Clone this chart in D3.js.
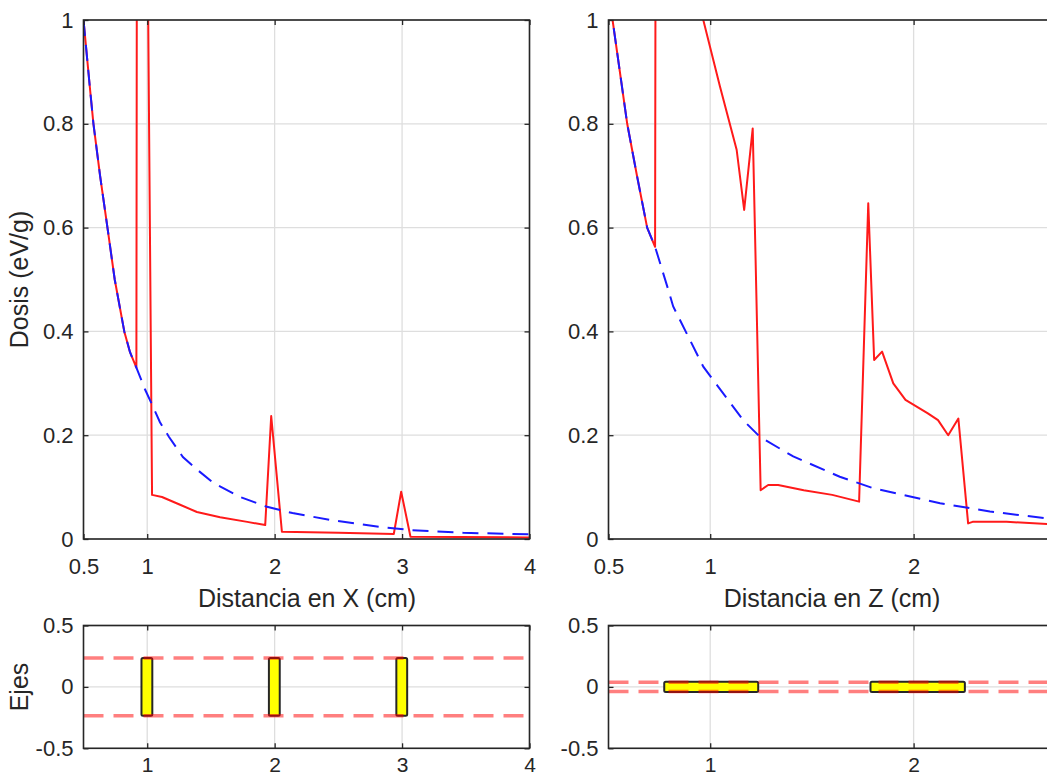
<!DOCTYPE html>
<html>
<head>
<meta charset="utf-8">
<script src="https://cdn.jsdelivr.net/npm/d3@7"></script>
<style>
  body { margin: 0; background: #fff; }
  svg { display: block; }
  text { font-family: "Liberation Sans", Arial, sans-serif; }
</style>
</head>
<body>
<svg id="chart" width="1047" height="778"></svg>
<script>
// --- dose along X (top left) ---
const xDoseDist = [0.5, 0.55, 0.578, 0.63, 0.688, 0.745, 0.82, 0.865, 0.915, 0.925, 0.975, 1.038, 1.116, 1.258, 1.39, 1.572, 1.785, 1.926, 1.973, 2.057, 2.5, 2.935, 2.993, 3.066, 4.0];
const xDose     = [1.0, 0.87, 0.8, 0.7, 0.6, 0.5, 0.4, 0.36, 0.33, 2.5, 2.0, 0.085, 0.081, 0.066, 0.052, 0.042, 0.033, 0.027, 0.237, 0.014, 0.012, 0.0096, 0.091, 0.0044, 0.003];
const xRefDist  = [0.5, 0.55, 0.578, 0.63, 0.688, 0.745, 0.82, 0.865, 0.915, 0.985, 1.04, 1.1, 1.17, 1.28, 1.39, 1.52, 1.73, 1.94, 2.14, 2.43, 2.83, 3.08, 3.48, 4.0];
const xRef      = [1.0, 0.87, 0.8, 0.7, 0.6, 0.5, 0.4, 0.36, 0.33, 0.287, 0.258, 0.225, 0.197, 0.158, 0.134, 0.108, 0.081, 0.062, 0.05, 0.037, 0.023, 0.017, 0.012, 0.009];

// --- dose along Z (top right) ---
const zDoseDist = [0.5, 0.52, 0.592, 0.64, 0.69, 0.729, 0.733, 0.94, 0.966, 1.048, 1.13, 1.167, 1.209, 1.248, 1.285, 1.334, 1.46, 1.6, 1.732, 1.777, 1.806, 1.845, 1.9, 1.96, 2.07, 2.12, 2.17, 2.22, 2.268, 2.29, 2.457, 2.7];
const zDose     = [1.08, 1.0, 0.8, 0.7, 0.6, 0.563, 1.6, 1.04, 1.0, 0.872, 0.75, 0.634, 0.791, 0.094, 0.104, 0.104, 0.094, 0.085, 0.072, 0.647, 0.345, 0.361, 0.3, 0.268, 0.242, 0.229, 0.2, 0.232, 0.03, 0.033, 0.033, 0.028];
const zRefDist  = [0.5, 0.52, 0.592, 0.64, 0.69, 0.729, 0.794, 0.818, 0.966, 1.162, 1.244, 1.408, 1.637, 1.8, 2.13, 2.375, 2.65, 2.7];
const zRef      = [1.08, 1.0, 0.8, 0.7, 0.6, 0.563, 0.48, 0.448, 0.332, 0.229, 0.197, 0.159, 0.12, 0.098, 0.069, 0.053, 0.04, 0.038];

// --- geometry (bottom panels) ---
const xSlabs = [[0.955, 1.04], [1.955, 2.04], [2.955, 3.04]];
const xSlabY = [-0.235, 0.235];
const xEdges = [0.235, -0.235];
const zSlabs = [[0.774, 1.236], [1.788, 2.252]];
const zSlabY = [-0.042, 0.042];
const zEdges = [0.037, -0.037];

// --- ticks ---
const doseTicks = [0, 0.2, 0.4, 0.6, 0.8, 1];
const xTopTicks = [0.5, 1, 2, 3, 4];
const zTopTicks = [0.5, 1, 2];
const ejesTicks = [-0.5, 0, 0.5];
const xBotTicks = [1, 2, 3, 4];
const zBotTicks = [1, 2];

const svg = d3.select('#chart');
const ink = '#262626';

function makePanel(id, box, xDomain, yDomain, xTicks, yTicks) {
  const x = d3.scaleLinear().domain(xDomain).range([box.left, box.right]);
  const y = d3.scaleLinear().domain(yDomain).range([box.bottom, box.top]);
  const g = svg.append('g').attr('id', id);

  g.append('clipPath').attr('id', id + '-clip')
    .append('rect')
    .attr('x', box.left).attr('y', box.top)
    .attr('width', box.right - box.left).attr('height', box.bottom - box.top);

  // grid
  g.append('g').selectAll('line').data(xTicks).join('line')
    .attr('x1', d => x(d)).attr('x2', d => x(d))
    .attr('y1', box.top).attr('y2', box.bottom)
    .attr('stroke', '#dedede').attr('stroke-width', 1.3);
  g.append('g').selectAll('line').data(yTicks).join('line')
    .attr('y1', d => y(d)).attr('y2', d => y(d))
    .attr('x1', box.left).attr('x2', box.right)
    .attr('stroke', '#dedede').attr('stroke-width', 1.3);

  const plot = g.append('g').attr('clip-path', `url(#${id}-clip)`);
  return { x, y, g, plot, box, xTicks, yTicks };
}

function finishPanel(p, xPad, yPad, xFont) {
  const { x, y, g, box, xTicks, yTicks } = p;
  const fmt = d => String(d);

  const styleAxis = size => sel => {
    sel.attr('color', ink).attr('font-family', null).attr('font-size', null);
    sel.select('.domain').remove();
    sel.selectAll('line').attr('stroke-width', 1.3);
    sel.selectAll('text').style('font-size', size + 'px').attr('fill', ink);
  };

  g.append('g').attr('transform', `translate(0,${box.bottom})`)
    .call(d3.axisBottom(x).tickValues(xTicks).tickFormat(fmt).tickSizeInner(-5).tickSizeOuter(0).tickPadding(xPad))
    .call(styleAxis(xFont));
  g.append('g').attr('transform', `translate(0,${box.top})`)
    .call(d3.axisTop(x).tickValues(xTicks).tickFormat('').tickSizeInner(-5).tickSizeOuter(0))
    .call(styleAxis(22));
  g.append('g').attr('transform', `translate(${box.left},0)`)
    .call(d3.axisLeft(y).tickValues(yTicks).tickFormat(fmt).tickSizeInner(-5).tickSizeOuter(0).tickPadding(yPad))
    .call(styleAxis(22));
  g.append('g').attr('transform', `translate(${box.right},0)`)
    .call(d3.axisRight(y).tickValues(yTicks).tickFormat('').tickSizeInner(-5).tickSizeOuter(0))
    .call(styleAxis(22));

  g.append('rect')
    .attr('x', box.left).attr('y', box.top)
    .attr('width', box.right - box.left).attr('height', box.bottom - box.top)
    .attr('fill', 'none').attr('stroke', ink).attr('stroke-width', 1.6);
}

function drawDose(p, dist, dose, refDist, ref) {
  const line = d3.line().x(d => p.x(d[0])).y(d => p.y(d[1]));
  p.plot.append('path')
    .datum(d3.zip(dist, dose))
    .attr('d', line)
    .attr('fill', 'none').attr('stroke', '#ff1a1a').attr('stroke-width', 2)
    .attr('stroke-linejoin', 'round');
  p.plot.append('path')
    .datum(d3.zip(refDist, ref))
    .attr('d', line)
    .attr('fill', 'none').attr('stroke', '#1a1aff').attr('stroke-width', 2)
    .attr('stroke-dasharray', '16,9');
}

function drawSlabs(p, slabs, slabY, edges) {
  p.plot.selectAll('rect.slab').data(slabs).join('rect')
    .attr('class', 'slab')
    .attr('x', d => p.x(d[0]))
    .attr('width', d => p.x(d[1]) - p.x(d[0]))
    .attr('y', p.y(slabY[1]))
    .attr('height', p.y(slabY[0]) - p.y(slabY[1]))
    .attr('rx', 1.5)
    .attr('fill', '#ffff00').attr('stroke', ink).attr('stroke-width', 2);
  p.plot.selectAll('line.edge').data(edges).join('line')
    .attr('class', 'edge')
    .attr('x1', p.box.left).attr('x2', p.box.right)
    .attr('y1', d => p.y(d)).attr('y2', d => p.y(d))
    .attr('stroke', 'rgba(255,0,0,0.5)').attr('stroke-width', 3.5)
    .attr('stroke-dasharray', '20,10');
}

// top left
const pXt = makePanel('dose-x', { left: 83.5, right: 529.5, top: 20, bottom: 539 }, [0.5, 4], [0, 1], xTopTicks, doseTicks);
drawDose(pXt, xDoseDist, xDose, xRefDist, xRef);
finishPanel(pXt, 19, 10, 22);

// top right
const pZt = makePanel('dose-z', { left: 608.5, right: 1056, top: 20, bottom: 539 }, [0.5, 2.7], [0, 1], zTopTicks, doseTicks);
drawDose(pZt, zDoseDist, zDose, zRefDist, zRef);
finishPanel(pZt, 19, 10, 22);

// bottom left
const pXb = makePanel('ejes-x', { left: 83.5, right: 529.5, top: 625.5, bottom: 748.3 }, [0.5, 4], [-0.5, 0.5], xBotTicks, ejesTicks);
drawSlabs(pXb, xSlabs, xSlabY, xEdges);
finishPanel(pXb, 9, 10, 21);

// bottom right
const pZb = makePanel('ejes-z', { left: 608.5, right: 1056, top: 625.5, bottom: 748.3 }, [0.5, 2.7], [-0.5, 0.5], zBotTicks, ejesTicks);
drawSlabs(pZb, zSlabs, zSlabY, zEdges);
finishPanel(pZb, 9, 10, 21);

// axis titles
const label = (x, y, txt, rot) => svg.append('text')
  .attr('transform', `translate(${x},${y})` + (rot ? ' rotate(-90)' : ''))
  .attr('text-anchor', 'middle')
  .attr('fill', ink)
  .style('font-size', '25px')
  .text(txt);

label(307, 607, 'Distancia en X (cm)');
label(832, 607, 'Distancia en Z (cm)');
label(28, 279.5, 'Dosis (eV/g)', true);
label(28, 687, 'Ejes', true);
</script>
</body>
</html>
